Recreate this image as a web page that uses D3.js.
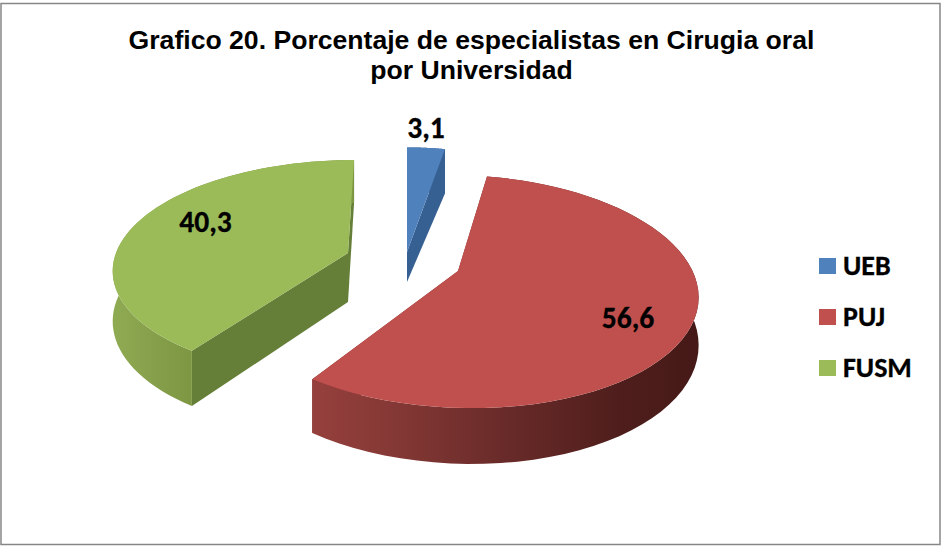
<!DOCTYPE html>
<html><head><meta charset="utf-8">
<script src="https://cdn.jsdelivr.net/npm/d3@7"></script>
<style>html,body{margin:0;padding:0;background:#fff}svg{display:block}</style>
</head><body><svg id="c" width="942" height="546"></svg>
<script>
const titleLines = ["Grafico 20. Porcentaje de especialistas en Cirugia oral", "por Universidad"];
const categories = ["UEB", "PUJ", "FUSM"];
const values = [3.1, 56.6, 40.3];
const valueLabels = ["3,1", "56,6", "40,3"];
const topColors = ["#4f81bd", "#c0504d", "#9bbb59"];
const cutColors = ["#376092", "#7a2f2d", "#667f38"];

const svg = d3.select("#c");
const defs = svg.append("defs");
const layout = [
  {ax: 407, ay: 252, vx: 407, p: .176, rx: 230, ry: 123, d: 52, ad: 30, lx: 426, ly: 138},
  {ax: 458, ay: 271, vx: 392, p: .176, rx: 234.5, ry: 113, d: 46, ad: 46, lx: 628, ly: 328},
  {ax: 348, ay: 253, vx: 398, p: .138, rx: 232, ry: 105.8, d: 49, ad: 49, lx: 205.5, ly: 232}
];
const wallStops = [
  [{o:0,c:"#376092"},{o:1,c:"#376092"}],
  [{o:0,c:"#96403d"},{o:.22,c:"#843835"},{o:.5,c:"#692b29"},{o:.8,c:"#4f1e1c"},{o:1,c:"#451917"}],
  [{o:0,c:"#8fab52"},{o:.5,c:"#869f4b"},{o:1,c:"#7c9642"}]
];
const wallRange = [[400,450],[310,697],[113,195]];
wallStops.forEach((s,i)=>{
  const g = defs.append("linearGradient").attr("id","w"+i).attr("gradientUnits","userSpaceOnUse")
    .attr("x1",wallRange[i][0]).attr("x2",wallRange[i][1]).attr("y1",0).attr("y2",0);
  s.forEach(t=>g.append("stop").attr("offset",t.o).attr("stop-color",t.c));
});

const pie = d3.pie().sort(null).value(d=>d);
const arcs = pie(values);
const line = d3.line();

function proj(L, a, down){
  const u = Math.sin(a), v = -Math.cos(a);
  const s = 1/(1 - L.p*v);
  const x = L.vx + s*((L.ax - L.vx) + u*L.rx);
  const y = L.ay + s*v*L.ry + (down ? L.d*s : 0);
  return [x,y];
}
function arcPts(L, a0, a1, down){
  return d3.range(0,61).map(i=>proj(L, a0+(a1-a0)*i/60, down));
}

// cut faces, then outer walls, tops last
arcs.forEach((d,i)=>{
  const L = layout[i];
  [d.startAngle,d.endAngle].forEach(a=>{
    const apexT=[L.ax,L.ay], apexB=[L.ax,L.ay+L.ad], t=proj(L,a,false), b=proj(L,a,true);
    svg.append("path").attr("d",line([apexT,t,b,apexB])+"Z").attr("fill",cutColors[i]);
  });
  const top = arcPts(L,d.startAngle,d.endAngle,false);
  const bot = arcPts(L,d.startAngle,d.endAngle,true);
  svg.append("path").attr("d",line(top.concat(bot.reverse()))+"Z").attr("fill",`url(#w${i})`);
});
arcs.forEach((d,i)=>{
  const L = layout[i];
  const top = arcPts(L,d.startAngle,d.endAngle,false);
  svg.append("path").attr("d",line([[L.ax,L.ay]].concat(top))+"Z").attr("fill",topColors[i]);
});

// value labels
arcs.forEach((d,i)=>{
  svg.append("text").attr("x",layout[i].lx).attr("y",layout[i].ly).attr("text-anchor","middle")
    .attr("font-family","Carlito, Lato, sans-serif").attr("font-weight",700).attr("font-size",29.5)
    .attr("stroke","#000").attr("stroke-width",.3).attr("fill","#000").text(valueLabels[i]);
});

// title
titleLines.forEach((t,i)=>{
  svg.append("text").attr("x",471.5).attr("y",49+i*30).attr("text-anchor","middle")
    .attr("font-family","'Liberation Sans',Arial,sans-serif").attr("font-weight",700).attr("font-size",26.6).attr("fill","#000").text(t);
});

// legend
const ly = d3.scalePoint().domain(categories).range([266,368]);
categories.forEach((c,i)=>{
  svg.append("rect").attr("x",819).attr("y",ly(c)-8).attr("width",17).attr("height",16).attr("fill",topColors[i]);
  svg.append("text").attr("x",843).attr("y",ly(c)+8.5).attr("font-family","Carlito, Lato, sans-serif")
    .attr("font-weight",700).attr("font-size",28).attr("stroke","#000").attr("stroke-width",.3).attr("fill","#000").text(c);
});

// frame
svg.append("path").attr("d","M1 3.5H940V544.5H1Z").attr("fill","none").attr("stroke","#868686").attr("stroke-width",1.5);
</script></body></html>
